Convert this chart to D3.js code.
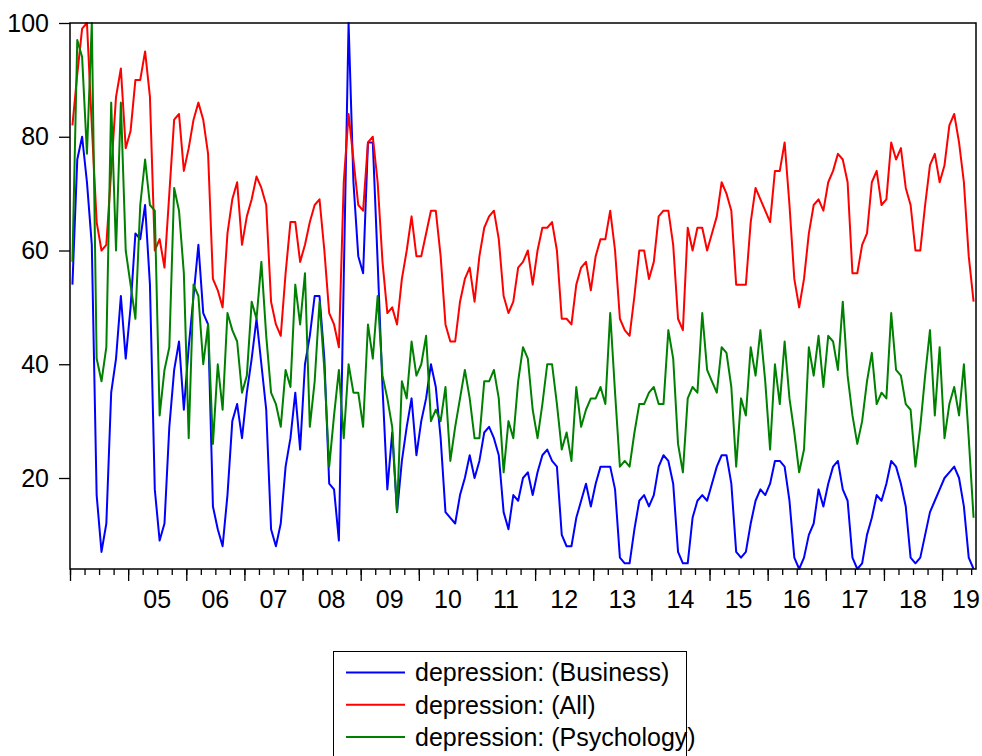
<!DOCTYPE html>
<html>
<head>
<meta charset="utf-8">
<style>
  body { margin: 0; background: #fff; }
  svg { display: block; }
  text { font-family: "Liberation Sans", Arial, sans-serif; fill: #000; }
</style>
</head>
<body>
<div id="chart"></div>
<script src="https://d3js.org/d3.v7.min.js"></script>
<script>
// monthly observations, 2004m01 .. 2019m07
var startYear = 2004;
var yearLabels = ["05", "06", "07", "08", "09", "10", "11", "12", "13", "14", "15", "16", "17", "18", "19"];
var yTicks = [20, 40, 60, 80, 100];
var seriesNames = ["depression: (Business)", "depression: (All)", "depression: (Psychology)"];

var business = [
  54, 76, 80, 72, 61, 17, 7, 12, 35, 41, 52, 41,
  50, 63, 62, 68, 54, 18, 9, 12, 29, 39, 44, 32,
  43, 52, 61, 49, 47, 15, 11, 8, 17, 30, 33, 27,
  35, 41, 48, 40, 32, 11, 8, 12, 22, 27, 35, 25,
  40, 45, 52, 52, 41, 19, 18, 9, 55, 100, 72, 59,
  56, 79, 79, 58, 36, 18, 28, 14, 23, 29, 34, 24,
  30, 34, 40, 36, 27, 14, 13, 12, 17, 20, 24, 20,
  23, 28, 29, 27, 24, 14, 11, 17, 16, 20, 21, 17,
  21, 24, 25, 23, 22, 10, 8, 8, 13, 16, 19, 15,
  19, 22, 22, 22, 18, 6, 5, 5, 11, 16, 17, 15,
  17, 22, 24, 23, 19, 7, 5, 5, 13, 16, 17, 16,
  19, 22, 24, 24, 19, 7, 6, 7, 12, 16, 18, 17,
  19, 23, 23, 22, 16, 6, 4, 6, 10, 12, 18, 15,
  19, 22, 23, 18, 16, 6, 4, 5, 10, 13, 17, 16,
  19, 23, 22, 19, 15, 6, 5, 6, 10, 14, 16, 18,
  20, 21, 22, 20, 15, 6, 4
];

var all = [
  82, 91, 99, 100, 82, 65, 60, 61, 74, 87, 92, 78,
  81, 90, 90, 95, 87, 60, 62, 57, 70, 83, 84, 74,
  78, 83, 86, 83, 77, 55, 53, 50, 63, 69, 72, 61,
  66, 69, 73, 71, 68, 51, 47, 45, 56, 65, 65, 58,
  61, 65, 68, 69, 60, 49, 47, 43, 72, 84, 76, 68,
  67, 79, 80, 72, 58, 49, 50, 47, 55, 60, 66, 59,
  59, 63, 67, 67, 59, 47, 44, 44, 51, 55, 57, 51,
  59, 64, 66, 67, 62, 52, 49, 51, 57, 58, 60, 54,
  60, 64, 64, 65, 60, 48, 48, 47, 54, 57, 58, 53,
  59, 62, 62, 67, 60, 48, 46, 45, 52, 60, 60, 55,
  58, 66, 67, 67, 61, 48, 46, 64, 60, 64, 64, 60,
  63, 66, 72, 70, 67, 54, 54, 54, 65, 71, 69, 67,
  65, 74, 74, 79, 68, 55, 50, 55, 63, 68, 69, 67,
  72, 74, 77, 76, 72, 56, 56, 61, 63, 72, 74, 68,
  69, 79, 76, 78, 71, 68, 60, 60, 68, 75, 77, 72,
  75, 82, 84, 79, 72, 59, 51
];

var psychology = [
  58, 97, 94, 77, 100, 41, 37, 43, 86, 60, 86, 60,
  54, 48, 68, 76, 68, 67, 31, 39, 43, 71, 67, 56,
  27, 54, 52, 40, 47, 26, 40, 32, 49, 46, 44, 35,
  38, 51, 48, 58, 45, 35, 33, 29, 39, 36, 54, 47,
  56, 29, 37, 51, 39, 22, 31, 39, 27, 40, 35, 35,
  29, 47, 41, 52, 38, 34, 29, 14, 37, 34, 44, 38,
  40, 45, 30, 32, 30, 36, 23, 29, 34, 39, 34, 27,
  27, 37, 37, 39, 34, 21, 30, 27, 37, 43, 41, 32,
  27, 33, 40, 40, 33, 25, 28, 23, 36, 29, 32, 34,
  34, 36, 33, 49, 35, 22, 23, 22, 28, 33, 33, 35,
  36, 33, 33, 46, 41, 26, 21, 34, 36, 35, 49, 39,
  37, 35, 43, 42, 36, 22, 34, 31, 43, 38, 46, 37,
  25, 40, 33, 44, 34, 28, 21, 25, 43, 38, 45, 36,
  45, 44, 39, 51, 38, 31, 26, 30, 37, 42, 33, 35,
  34, 49, 39, 38, 33, 32, 22, 29, 38, 46, 31, 43,
  27, 33, 36, 31, 40, 27, 13
];

var colors = ["#0000ff", "#ff0000", "#008000"];
var seriesData = [business, all, psychology];

var width = 982, height = 756;
var plot = { left: 70, right: 976, top: 23, bottom: 569 };
var nObs = business.length;

var svg = d3.select("#chart").append("svg")
  .attr("width", width)
  .attr("height", height);

svg.append("rect")
  .attr("width", width).attr("height", height)
  .attr("fill", "#fff");

var x = d3.scaleLinear()
  .domain([0, nObs])
  .range([plot.left, plot.right]);

var y = d3.scaleLinear()
  .domain([4, 100])
  .range([plot.bottom, plot.top]);

// Y axis
var yAxis = svg.append("g")
  .attr("transform", "translate(" + plot.left + ",0)")
  .call(d3.axisLeft(y).tickValues(yTicks).tickSize(11).tickPadding(10));
yAxis.select(".domain").remove();
yAxis.selectAll("line").attr("stroke", "#000").attr("stroke-width", 1.3);
yAxis.selectAll("text").style("font-size", "25px").attr("fill", "#000");

// X axis: quarterly minor ticks, yearly major ticks
var quarters = d3.range(0, nObs, 3);
var yearStarts = d3.range(0, nObs, 12);

var xMinor = svg.append("g")
  .attr("transform", "translate(0," + plot.bottom + ")")
  .call(d3.axisBottom(x).tickValues(quarters).tickSize(6).tickFormat(""));
xMinor.select(".domain").remove();
xMinor.selectAll("line").attr("stroke", "#000").attr("stroke-width", 1.3);

var xMajor = svg.append("g")
  .attr("transform", "translate(0," + plot.bottom + ")")
  .call(d3.axisBottom(x).tickValues(yearStarts).tickSize(12).tickFormat(""));
xMajor.select(".domain").remove();
xMajor.selectAll("line").attr("stroke", "#000").attr("stroke-width", 1.3);

svg.append("g").selectAll("text")
  .data(yearLabels)
  .join("text")
  .attr("x", function(d, i) {
    var cx = x((i + 1) * 12 + 6);
    return Math.min(cx, 966);
  })
  .attr("y", 608)
  .attr("text-anchor", "middle")
  .style("font-size", "25px")
  .text(function(d) { return d; });

// series lines
var line = d3.line()
  .x(function(d, i) { return x(i + 0.5); })
  .y(function(d) { return y(d); });

svg.append("g").selectAll("path")
  .data(seriesData)
  .join("path")
  .attr("d", line)
  .attr("fill", "none")
  .attr("stroke", function(d, i) { return colors[i]; })
  .attr("stroke-width", 2)
  .attr("stroke-linejoin", "round");

// frame
svg.append("rect")
  .attr("x", plot.left).attr("y", plot.top)
  .attr("width", plot.right - plot.left)
  .attr("height", plot.bottom - plot.top)
  .attr("fill", "none")
  .attr("stroke", "#000")
  .attr("stroke-width", 1.5);

// legend
var legend = svg.append("g");
legend.append("rect")
  .attr("x", 333.5).attr("y", 651.5)
  .attr("width", 353).attr("height", 130)
  .attr("fill", "#fff")
  .attr("stroke", "#000")
  .attr("stroke-width", 1);

var items = legend.selectAll("g.item")
  .data(seriesNames)
  .join("g")
  .attr("class", "item")
  .attr("transform", function(d, i) { return "translate(0," + (672.5 + i * 32.3) + ")"; });

items.append("line")
  .attr("x1", 346).attr("x2", 405)
  .attr("y1", 0).attr("y2", 0)
  .attr("stroke", function(d, i) { return colors[i]; })
  .attr("stroke-width", 2);

items.append("text")
  .attr("x", 415)
  .attr("y", 0)
  .attr("dy", "0.35em")
  .style("font-size", "25px")
  .text(function(d) { return d; });
</script>
</body>
</html>
